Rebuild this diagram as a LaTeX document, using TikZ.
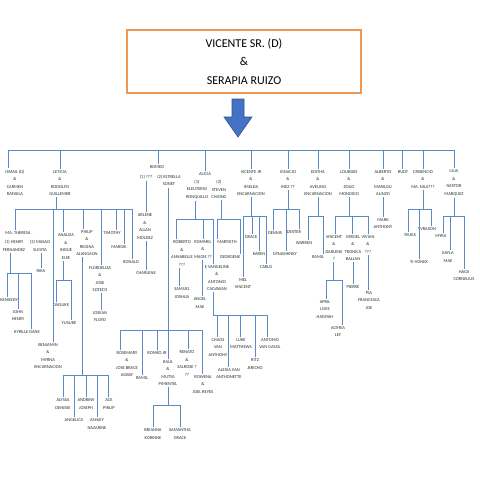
\documentclass[tikz,border=0pt]{standalone}
\usepackage{fontspec}
\setmainfont{Carlito}
\definecolor{lineblue}{RGB}{91,138,196}
\definecolor{textgray}{RGB}{45,45,45}
\definecolor{boxorange}{RGB}{237,152,85}
\definecolor{arrowblue}{RGB}{68,114,196}
\definecolor{arrowdark}{RGB}{47,82,143}
\newcommand\tdrop[3]{\draw[conn] (#1,#2) -- (#1,#2 |- #3.north);}
\newcommand\tstem[3]{\draw[conn] (#1,#3 |- #2.south) -- (#1,#3);}
\newcommand\tlink[3]{\draw[conn] (#1,0 |- #2.south) -- (#1,0 |- #3.north);}
\newcommand\tbus[3]{\draw[conn] (#1,#3) -- (#2,#3);}
\begin{document}
\begin{tikzpicture}[x=1pt,y=-1pt,
  conn/.style={draw=lineblue,line width=0.8pt},
  lbl/.style={font=\fontsize{4.5}{7.5}\selectfont,align=center,text=textgray,inner xsep=0.5pt,inner ysep=1.5pt}]
\useasboundingbox[fill=white] (0,0) rectangle (480,480);

% top
\node[draw=boxorange,line width=1.2pt,minimum width=234pt,minimum height=63pt,
  font=\fontsize{12}{18.5}\selectfont,align=center,text=black] (top) at (244,61.5)
  {VICENTE SR. (D)\\\&\\SERAPIA RUIZO};
\filldraw[fill=arrowblue,draw=arrowdark,line width=0.6pt]
  (232,99) -- (244,99) -- (244,117) -- (252,117) -- (238,137) -- (224,117) -- (232,117) -- cycle;

% generation 1
\node[lbl] (ismail) at (15,183) {ISMAIL (D)\\\&\\CARMEN\\RAFAELA};
\node[lbl] (leticia) at (60,183) {LETICIA\\\&\\RODOLFO\\GUILLEMER};
\node[lbl] (romeo) at (157,167) {ROMEO};
\node[lbl] (romeoa) at (146,177) {(1) ???};
\node[lbl] (romeob) at (169,180.5) {(2) ESTRELLA\\SONET};
\node[lbl] (alicia) at (205,174) {ALICIA};
\node[lbl] (eleut) at (197,189.5) {(1)\\ELEUTERIO\\RONQUILLO};
\node[lbl] (steven) at (219,189.5) {(2)\\STEVEN\\CHIONG};
\node[lbl] (vicjr) at (251,183) {VICENTE JR\\\&\\IMELDA\\ENCARNACION};
\node[lbl] (ignacio) at (288,179.5) {IGNACIO\\\&\\INEZ ??};
\node[lbl] (editha) at (318,183) {EDITHA\\\&\\AVELINO\\ENCARNACION};
\node[lbl] (lourdes) at (349,183) {LOURDES\\\&\\ZOILO\\MONDIGO};
\node[lbl] (alberto) at (383,183) {ALBERTO\\\&\\MARILOU\\ALINZO};
\node[lbl] (rudy) at (403,172) {RUDY};
\node[lbl] (crisencio) at (423,179.5) {CRISENCIO\\\&\\MA. NILA???};
\node[lbl] (lilia) at (454,183) {LILIA\\\&\\NESTOR\\MARQUEZ};

\tbus{8}{454}{150}
\tdrop{8}{150}{ismail}
\tdrop{60}{150}{leticia}
\tdrop{158}{150}{romeo}
\tdrop{205}{150}{alicia}
\tdrop{251}{150}{vicjr}
\tdrop{288}{150}{ignacio}
\tdrop{318}{150}{editha}
\tdrop{349}{150}{lourdes}
\tdrop{383}{150}{alberto}
\tdrop{402}{150}{rudy}
\tdrop{423}{150}{crisencio}
\tdrop{454}{150}{lilia}

% Leticia family
\node[lbl] (theresa) at (18,233) {MA. THERESA};
\node[lbl] (henry) at (14,246) {(1) HENRY\\FERNANDEZ};
\node[lbl] (masao) at (40,246) {(2) MASAO\\SUGITA};
\node[lbl] (rika) at (41,271) {RIKA};
\node[lbl] (kennedy) at (9,300) {KENNEDY};
\node[lbl] (john) at (18,315.5) {JOHN\\HENRY};
\node[lbl] (kyrille) at (27,332) {KYRILLE DANE};
\node[lbl] (benjamin) at (48,356) {BENJAMIN\\\&\\MYRNA\\ENCARNACION};
\node[lbl] (analiza) at (66,246.5) {ANALIZA\\\&\\INOUE\\EIJIE};
\node[lbl] (daisuke) at (61,305) {DAISUKE};
\node[lbl] (yusuke) at (69,323) {YUSUKE};
\node[lbl] (philip) at (87,243) {PHILIP\\\&\\REGINA\\ALANGAON};
\node[lbl] (flor) at (100,279) {FLORDELIZA\\\&\\JOSE\\SOTECO};
\node[lbl] (josean) at (100,316.5) {JOSEAN\\FLOYD};
\node[lbl] (timothy) at (112,233) {TIMOTHY};
\node[lbl] (margie) at (119,247) {MARGIE};
\node[lbl] (ronald) at (131,262) {RONALD};
\node[lbl] (alyssa) at (63,404) {ALYSSA\\DENISSE};
\node[lbl] (angelica) at (74,420) {ANGELICA};
\node[lbl] (andrew) at (86,404) {ANDREW\\JOSEPH};
\node[lbl] (ashley) at (97,424) {ASHLEY\\NAZARINE};
\node[lbl] (ace) at (109,404) {ACE\\PHILIP};

\tstem{56}{leticia}{209}
\tbus{15}{132}{209}
\tdrop{15}{209}{theresa}
\tdrop{53}{209}{benjamin}
\tdrop{63}{209}{analiza}
\tdrop{83}{209}{philip}
\tdrop{101}{209}{flor}
\tdrop{116}{209}{timothy}
\tdrop{124}{209}{margie}
\tdrop{132}{209}{ronald}
\tlink{41}{masao}{rika}
\tstem{10}{henry}{273}
\tbus{7}{31}{273}
\tdrop{7}{273}{kennedy}
\tdrop{18}{273}{john}
\tdrop{31}{273}{kyrille}
\tstem{63}{analiza}{280}
\tbus{56}{71}{280}
\tdrop{56}{280}{daisuke}
\tdrop{71}{280}{yusuke}
\tstem{82}{philip}{375}
\tbus{63}{108}{375}
\tdrop{63}{375}{alyssa}
\tdrop{74}{375}{angelica}
\tdrop{86}{375}{andrew}
\tdrop{97}{375}{ashley}
\tdrop{108}{375}{ace}
\tlink{101}{flor}{josean}

% Romeo family
\node[lbl] (arlene) at (145,226.5) {ARLENE\\\&\\ALLAN\\MOLDEZ};
\node[lbl] (charlene) at (146,273) {CHARLENE};
\node[lbl] (rosemary) at (127,364) {ROSEMARY\\\&\\JOSE BRACE\\AGBAY};
\node[lbl] (ramila) at (142,378) {RAMIL};
\node[lbl] (romeojr) at (157,353) {ROMEO JR};
\node[lbl] (raul) at (168,373) {RAUL\\\&\\MUTYA\\PIMENTEL};
\node[lbl] (renato) at (187,363.5) {RENATO\\\&\\SALROSE ?\\??};
\node[lbl] (rowena) at (203,384.5) {ROWENA\\\&\\JOEL REYES};
\node[lbl] (brianna) at (153,434) {BRIANNA\\KORINNE};
\node[lbl] (samantha) at (180,434) {SAMANTHA\\GRACE};

\tlink{146}{romeoa}{arlene}
\tlink{146}{arlene}{charlene}
\tstem{168}{romeob}{330}
\tbus{120}{202}{330}
\tdrop{120}{330}{rosemary}
\tdrop{142}{330}{ramila}
\tdrop{157}{330}{romeojr}
\tdrop{168}{330}{raul}
\tdrop{188}{330}{renato}
\tdrop{202}{330}{rowena}
\tstem{168}{raul}{405}
\tbus{153}{180}{405}
\tdrop{153}{405}{brianna}
\tdrop{180}{405}{samantha}

% Alicia family
\node[lbl] (roberto) at (182,253.5) {ROBERTO\\\&\\ANNABELLE\\???};
\node[lbl] (rommel) at (203,249.5) {ROMMEL\\\&\\MAGIE ??};
\node[lbl] (evangeline) at (217,278) {E VANGELINE\\\&\\ANTONIO\\CAGAWAN};
\node[lbl] (marysith) at (227,242) {MARYSITH};
\node[lbl] (georgene) at (230,257) {GEORGENE};
\node[lbl] (samuel) at (182,293) {SAMUEL\\JOSHUA};
\node[lbl] (angel) at (200,303) {ANGEL\\MAE};
\node[lbl] (chaos) at (218,347.5) {CHAOS\\VAN\\ANTHONY};
\node[lbl] (alexia) at (229,373.5) {ALEXIA VAN\\ANTHONETTE};
\node[lbl] (luke) at (241,343.5) {LUKE\\MATTHEWS};
\node[lbl] (ritz) at (255,364) {RITZ\\JERICHO};
\node[lbl] (antonio) at (270,343.5) {ANTONIO\\VAN GASOL};

\tstem{195}{eleut}{219}
\tbus{176}{213}{219}
\tdrop{176}{219}{roberto}
\tdrop{203}{219}{rommel}
\tdrop{213}{219}{evangeline}
\tstem{221}{steven}{219}
\tbus{217}{240}{219}
\tdrop{217}{219}{marysith}
\tdrop{240}{219}{georgene}
\tlink{179}{roberto}{samuel}
\tlink{202}{rommel}{angel}
\tstem{213}{evangeline}{315}
\tbus{213}{267}{315}
\tdrop{217}{315}{chaos}
\tdrop{228}{315}{alexia}
\tdrop{240}{315}{luke}
\tdrop{255}{315}{ritz}
\tdrop{267}{315}{antonio}

% Vicente Jr family
\node[lbl] (mel) at (243,283.5) {MEL\\VINCENT};
\node[lbl] (grace) at (251,237) {GRACE};
\node[lbl] (karen) at (259,254) {KAREN};
\node[lbl] (carlo) at (266,267) {CARLO};
\tstem{251}{vicjr}{216}
\tbus{243}{266}{216}
\tdrop{243}{216}{mel}
\tdrop{252}{216}{grace}
\tdrop{259}{216}{karen}
\tdrop{266}{216}{carlo}

% Ignacio family
\node[lbl] (dennis) at (275,233) {DENNIS};
\node[lbl] (dynashinky) at (285,254) {DYNASHINKY};
\node[lbl] (dexter) at (294,232) {DEXTER};
\tstem{288}{ignacio}{209}
\tbus{273}{299}{209}
\tdrop{273}{209}{dennis}
\tdrop{286}{209}{dynashinky}
\tdrop{299}{209}{dexter}

% Editha family
\node[lbl] (warren) at (304,243) {WARREN};
\node[lbl] (ramilb) at (318,257) {RAMIL};
\tstem{318}{editha}{216}
\tbus{308}{323}{216}
\tdrop{308}{216}{warren}
\tdrop{323}{216}{ramilb}

% Lourdes family
\node[lbl] (vincent) at (334,248) {VINCENT\\\&\\DARLENE\\?};
\node[lbl] (vergel) at (353,248) {VERGEL\\\&\\TRONICA\\BALLAN};
\node[lbl] (vivian) at (368,244.5) {VIVIAN\\\&\\???};
\node[lbl] (april) at (325,309.5) {APRIL\\LOVE\\HADIYAH};
\node[lbl] (althea) at (338,331.5) {ALTHEA\\LEY};
\node[lbl] (pierre) at (353,287) {PIERRE};
\node[lbl] (pia) at (369,300.5) {PIA\\FRANCESCA\\JOE};
\tstem{349}{lourdes}{216}
\tbus{335}{368}{216}
\tdrop{335}{216}{vincent}
\tdrop{352}{216}{vergel}
\tdrop{368}{216}{vivian}
\tstem{333}{vincent}{280}
\tbus{326}{342}{280}
\tdrop{326}{280}{april}
\tdrop{342}{280}{althea}
\tlink{353}{vergel}{pierre}
\tlink{368}{vivian}{pia}

% Alberto family
\node[lbl] (mark) at (383,223.5) {MARK\\ANTHONY};
\tlink{383}{alberto}{mark}

% Crisencio family
\node[lbl] (yeuex) at (410,235) {YEUEX};
\node[lbl] (yvraxon) at (427,229) {YVRAXON};
\node[lbl] (yivonex) at (419,262) {YI-VONEX};
\tstem{423}{crisencio}{209}
\tbus{408}{431}{209}
\tdrop{408}{209}{yeuex}
\tdrop{419}{209}{yivonex}
\tdrop{431}{209}{yvraxon}

% Lilia family
\node[lbl] (myra) at (441,236) {MYRA};
\node[lbl] (kayla) at (448,257) {KAYLA\\MAE};
\node[lbl] (hagii) at (464,275.5) {HAGII\\CORNELIUS};
\tstem{454}{lilia}{216}
\tbus{443}{464}{216}
\tdrop{443}{216}{myra}
\tdrop{450}{216}{kayla}
\tdrop{464}{216}{hagii}
\end{tikzpicture}
\end{document}
